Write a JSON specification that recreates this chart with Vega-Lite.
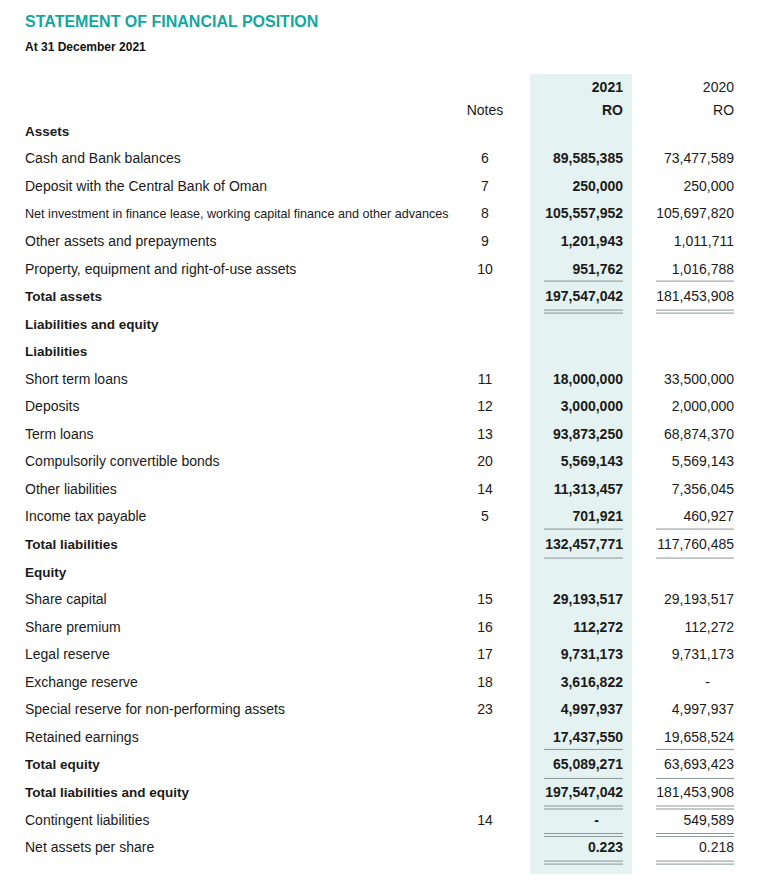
{
  "$schema": "https://vega.github.io/schema/vega-lite/v6.json",
  "padding": {"left": 25, "top": 14, "right": 0, "bottom": 0},
  "background": "white",
  "config": {"view": {"stroke": null}, "text": {"font": "Liberation Sans", "color": "#1a1a1a"}},
  "title": {
    "text": "STATEMENT OF FINANCIAL POSITION",
    "subtitle": "At 31 December 2021",
    "anchor": "start",
    "frame": "group",
    "font": "Liberation Sans",
    "fontSize": 16,
    "fontWeight": "bold",
    "color": "#13a89e",
    "subtitleFont": "Liberation Sans",
    "subtitleFontSize": 12,
    "subtitleFontWeight": "bold",
    "subtitleColor": "#111111",
    "subtitlePadding": 12,
    "offset": 21
  },
  "datasets": {
    "body": [
      {"row": 0, "label": "Assets", "kind": "section", "notes": "", "v2021": "", "v2020": "", "over": false, "under": "none"},
      {"row": 1, "label": "Cash and Bank balances", "kind": "item", "notes": "6", "v2021": "89,585,385", "v2020": "73,477,589", "over": false, "under": "none"},
      {"row": 2, "label": "Deposit with the Central Bank of Oman", "kind": "item", "notes": "7", "v2021": "250,000", "v2020": "250,000", "over": false, "under": "none"},
      {"row": 3, "label": "Net investment in finance lease, working capital finance and other advances", "kind": "item", "notes": "8", "v2021": "105,557,952", "v2020": "105,697,820", "over": false, "under": "none"},
      {"row": 4, "label": "Other assets and prepayments", "kind": "item", "notes": "9", "v2021": "1,201,943", "v2020": "1,011,711", "over": false, "under": "none"},
      {"row": 5, "label": "Property, equipment and right-of-use assets", "kind": "item", "notes": "10", "v2021": "951,762", "v2020": "1,016,788", "over": false, "under": "none"},
      {"row": 6, "label": "Total assets", "kind": "total", "notes": "", "v2021": "197,547,042", "v2020": "181,453,908", "over": true, "under": "double"},
      {"row": 7, "label": "Liabilities and equity", "kind": "section", "notes": "", "v2021": "", "v2020": "", "over": false, "under": "none"},
      {"row": 8, "label": "Liabilities", "kind": "section", "notes": "", "v2021": "", "v2020": "", "over": false, "under": "none"},
      {"row": 9, "label": "Short term loans", "kind": "item", "notes": "11", "v2021": "18,000,000", "v2020": "33,500,000", "over": false, "under": "none"},
      {"row": 10, "label": "Deposits", "kind": "item", "notes": "12", "v2021": "3,000,000", "v2020": "2,000,000", "over": false, "under": "none"},
      {"row": 11, "label": "Term loans", "kind": "item", "notes": "13", "v2021": "93,873,250", "v2020": "68,874,370", "over": false, "under": "none"},
      {"row": 12, "label": "Compulsorily convertible bonds", "kind": "item", "notes": "20", "v2021": "5,569,143", "v2020": "5,569,143", "over": false, "under": "none"},
      {"row": 13, "label": "Other liabilities", "kind": "item", "notes": "14", "v2021": "11,313,457", "v2020": "7,356,045", "over": false, "under": "none"},
      {"row": 14, "label": "Income tax payable", "kind": "item", "notes": "5", "v2021": "701,921", "v2020": "460,927", "over": false, "under": "none"},
      {"row": 15, "label": "Total liabilities", "kind": "total", "notes": "", "v2021": "132,457,771", "v2020": "117,760,485", "over": true, "under": "single"},
      {"row": 16, "label": "Equity", "kind": "section", "notes": "", "v2021": "", "v2020": "", "over": false, "under": "none"},
      {"row": 17, "label": "Share capital", "kind": "item", "notes": "15", "v2021": "29,193,517", "v2020": "29,193,517", "over": false, "under": "none"},
      {"row": 18, "label": "Share premium", "kind": "item", "notes": "16", "v2021": "112,272", "v2020": "112,272", "over": false, "under": "none"},
      {"row": 19, "label": "Legal reserve", "kind": "item", "notes": "17", "v2021": "9,731,173", "v2020": "9,731,173", "over": false, "under": "none"},
      {"row": 20, "label": "Exchange reserve", "kind": "item", "notes": "18", "v2021": "3,616,822", "v2020": "-", "over": false, "under": "none"},
      {"row": 21, "label": "Special reserve for non-performing assets", "kind": "item", "notes": "23", "v2021": "4,997,937", "v2020": "4,997,937", "over": false, "under": "none"},
      {"row": 22, "label": "Retained earnings", "kind": "item", "notes": "", "v2021": "17,437,550", "v2020": "19,658,524", "over": false, "under": "none"},
      {"row": 23, "label": "Total equity", "kind": "total", "notes": "", "v2021": "65,089,271", "v2020": "63,693,423", "over": true, "under": "single"},
      {"row": 24, "label": "Total liabilities and equity", "kind": "total", "notes": "", "v2021": "197,547,042", "v2020": "181,453,908", "over": false, "under": "double"},
      {"row": 25, "label": "Contingent liabilities", "kind": "item", "notes": "14", "v2021": "-", "v2020": "549,589", "over": false, "under": "double"},
      {"row": 26, "label": "Net assets per share", "kind": "item", "notes": "", "v2021": "0.223", "v2020": "0.218", "over": false, "under": "double"}
    ],
    "header": [
      {"h": 0, "notes": "", "c2021": "2021", "c2020": "2020"},
      {"h": 1, "notes": "Notes", "c2021": "RO", "c2020": "RO"}
    ]
  },
  "spacing": 0,
  "vconcat": [
    {
      "spacing": 0,
      "hconcat": [
        {
          "width": 430,
          "height": 48,
          "data": {"name": "header"},
          "mark": {"type": "text", "align": "left", "fontSize": 14},
          "encoding": {
            "y": {"field": "h", "type": "ordinal", "scale": {"type": "point", "padding": 0.5435, "align": 0.56}, "axis": null},
            "x": {"datum": 0, "type": "quantitative", "scale": {"domain": [0, 1]}, "axis": null},
            "text": {"value": ""}
          }
        },
        {
          "width": 75,
          "height": 48,
          "data": {"name": "header"},
          "mark": {"type": "text", "align": "center", "fontSize": 14},
          "encoding": {
            "y": {"field": "h", "type": "ordinal", "scale": {"type": "point", "padding": 0.5435, "align": 0.56}, "axis": null},
            "x": {"datum": 0.5, "type": "quantitative", "scale": {"domain": [0, 1.25]}, "axis": null},
            "text": {"field": "notes"}
          }
        },
        {
          "width": 102,
          "height": 48,
          "view": {"fill": "#e4f2f2", "stroke": null},
          "data": {"name": "header"},
          "mark": {"type": "text", "align": "right", "fontSize": 14, "fontWeight": "bold"},
          "encoding": {
            "y": {"field": "h", "type": "ordinal", "scale": {"type": "point", "padding": 0.5435, "align": 0.56}, "axis": null},
            "x": {"datum": 1, "type": "quantitative", "scale": {"domain": [-0.177, 1.114]}, "axis": null},
            "text": {"field": "c2021"}
          }
        },
        {
          "width": 139,
          "height": 48,
          "data": {"name": "header"},
          "mark": {"type": "text", "align": "right", "fontSize": 14},
          "encoding": {
            "y": {"field": "h", "type": "ordinal", "scale": {"type": "point", "padding": 0.5435, "align": 0.56}, "axis": null},
            "x": {"datum": 1, "type": "quantitative", "scale": {"domain": [-0.3077, 1.474]}, "axis": null},
            "text": {"field": "c2020"}
          }
        }
      ]
    },
    {
      "spacing": 0,
      "hconcat": [
        {
          "width": 430,
          "height": 752,
          "data": {"name": "body"},
          "encoding": {
            "y": {"field": "row", "type": "ordinal", "scale": {"type": "point", "padding": 0.648, "align": 0.2745}, "axis": null},
            "x": {"datum": 0, "type": "quantitative", "scale": {"domain": [0, 1]}, "axis": null},
            "text": {"field": "label"}
          },
          "layer": [
            {
              "transform": [{"filter": "datum.kind === 'item'"}],
              "mark": {"type": "text", "align": "left"},
              "encoding": {"size": {"condition": {"test": "datum.row === 3", "value": 12.6}, "value": 14}}
            },
            {
              "transform": [{"filter": "datum.kind !== 'item'"}],
              "mark": {"type": "text", "align": "left", "fontWeight": "bold", "fontSize": 13.5}
            }
          ]
        },
        {
          "width": 75,
          "height": 752,
          "data": {"name": "body"},
          "mark": {"type": "text", "align": "center", "fontSize": 14},
          "encoding": {
            "y": {"field": "row", "type": "ordinal", "scale": {"type": "point", "padding": 0.648, "align": 0.2745}, "axis": null},
            "x": {"datum": 0.5, "type": "quantitative", "scale": {"domain": [0, 1.25]}, "axis": null},
            "text": {"field": "notes"}
          }
        },
        {
          "width": 102,
          "height": 752,
          "view": {"fill": "#e4f2f2", "stroke": null},
          "data": {"name": "body"},
          "encoding": {
            "y": {"field": "row", "type": "ordinal", "scale": {"type": "point", "padding": 0.648, "align": 0.2745}, "axis": null}
          },
          "layer": [
            {
              "transform": [{"filter": "datum.v2021 !== '-'"}],
              "mark": {"type": "text", "align": "right", "fontSize": 14, "fontWeight": "bold"},
              "encoding": {
                "x": {"datum": 1, "type": "quantitative", "scale": {"domain": [-0.177, 1.114]}, "axis": null},
                "text": {"field": "v2021"}
              }
            },
            {
              "transform": [{"filter": "datum.v2021 === '-'"}],
              "mark": {"type": "text", "align": "right", "fontSize": 14, "fontWeight": "bold", "dx": -24},
              "encoding": {
                "x": {"datum": 1, "type": "quantitative", "scale": {"domain": [-0.177, 1.114]}, "axis": null},
                "text": {"field": "v2021"}
              }
            },
            {
              "transform": [{"filter": "datum.over"}],
              "mark": {"type": "rule", "color": "#8a9696", "strokeWidth": 1, "yOffset": -16},
              "encoding": {
                "x": {"datum": 0, "type": "quantitative", "scale": {"domain": [-0.177, 1.114]}, "axis": null},
                "x2": {"datum": 1}
              }
            },
            {
              "transform": [{"filter": "datum.under !== 'none'"}],
              "mark": {"type": "rule", "color": "#8a9696", "strokeWidth": 1, "yOffset": 13},
              "encoding": {
                "x": {"datum": 0, "type": "quantitative", "scale": {"domain": [-0.177, 1.114]}, "axis": null},
                "x2": {"datum": 1}
              }
            },
            {
              "transform": [{"filter": "datum.under === 'double'"}],
              "mark": {"type": "rule", "color": "#8a9696", "strokeWidth": 1, "yOffset": 16},
              "encoding": {
                "x": {"datum": 0, "type": "quantitative", "scale": {"domain": [-0.177, 1.114]}, "axis": null},
                "x2": {"datum": 1}
              }
            }
          ]
        },
        {
          "width": 139,
          "height": 752,
          "data": {"name": "body"},
          "encoding": {
            "y": {"field": "row", "type": "ordinal", "scale": {"type": "point", "padding": 0.648, "align": 0.2745}, "axis": null}
          },
          "layer": [
            {
              "transform": [{"filter": "datum.v2020 !== '-'"}],
              "mark": {"type": "text", "align": "right", "fontSize": 14},
              "encoding": {
                "x": {"datum": 1, "type": "quantitative", "scale": {"domain": [-0.3077, 1.474]}, "axis": null},
                "text": {"field": "v2020"}
              }
            },
            {
              "transform": [{"filter": "datum.v2020 === '-'"}],
              "mark": {"type": "text", "align": "right", "fontSize": 14, "dx": -24},
              "encoding": {
                "x": {"datum": 1, "type": "quantitative", "scale": {"domain": [-0.3077, 1.474]}, "axis": null},
                "text": {"field": "v2020"}
              }
            },
            {
              "transform": [{"filter": "datum.over"}],
              "mark": {"type": "rule", "color": "#8a9696", "strokeWidth": 1, "yOffset": -16},
              "encoding": {
                "x": {"datum": 0, "type": "quantitative", "scale": {"domain": [-0.3077, 1.474]}, "axis": null},
                "x2": {"datum": 1}
              }
            },
            {
              "transform": [{"filter": "datum.under !== 'none'"}],
              "mark": {"type": "rule", "color": "#8a9696", "strokeWidth": 1, "yOffset": 13},
              "encoding": {
                "x": {"datum": 0, "type": "quantitative", "scale": {"domain": [-0.3077, 1.474]}, "axis": null},
                "x2": {"datum": 1}
              }
            },
            {
              "transform": [{"filter": "datum.under === 'double'"}],
              "mark": {"type": "rule", "color": "#8a9696", "strokeWidth": 1, "yOffset": 16},
              "encoding": {
                "x": {"datum": 0, "type": "quantitative", "scale": {"domain": [-0.3077, 1.474]}, "axis": null},
                "x2": {"datum": 1}
              }
            }
          ]
        }
      ]
    }
  ]
}
